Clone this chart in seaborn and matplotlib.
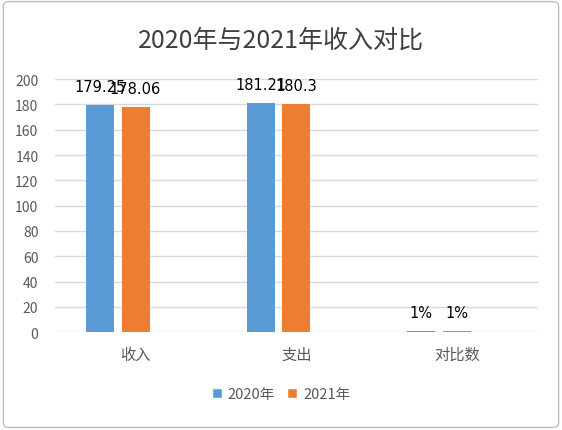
import matplotlib
matplotlib.use("Agg")
import matplotlib.pyplot as plt
from matplotlib.patches import Patch, FancyBboxPatch
import seaborn as sns
import pandas as pd

categories = ["收入", "支出", "对比数"]
series = ["2020年", "2021年"]
v2020 = [179.25, 181.21, 1]
v2021 = [178.06, 180.3, 1]
labels2020 = ["179.25", "181.21", "1%"]
labels2021 = ["178.06", "180.3", "1%"]
colors = ["#5B9BD5", "#ED7D31"]

df = pd.DataFrame({
    "类别": categories * 2,
    "年份": [series[0]] * 3 + [series[1]] * 3,
    "值": v2020 + v2021,
})

sns.set_style("white")
plt.rcParams["font.family"] = ["Noto Sans CJK SC", "DejaVu Sans"]

fig = plt.figure(figsize=(5.62, 4.31), dpi=100)
ax = fig.add_axes([0.098, 0.227, 0.859, 0.587])

# third empty slot keeps the Excel-like offset of the pair inside each group
sns.barplot(data=df, x="类别", y="值", hue="年份",
            hue_order=series + [" "], order=categories,
            palette=colors + ["white"], width=0.67, gap=0.22,
            saturation=1, linewidth=0, edgecolor="none",
            legend=False, ax=ax)

for cont, labs in zip(ax.containers, [labels2020, labels2021]):
    ax.bar_label(cont, labels=labs, padding=8, fontsize=10.5,
                 family=["DejaVu Sans"], color="black")

ax.set_ylim(0, 200)
ax.set_yticks(range(0, 201, 20))
ax.set_xlim(-0.5, 2.5)
ax.yaxis.grid(True, color="#d9d9d9", linewidth=1)
ax.set_axisbelow(True)
for s in ax.spines.values():
    s.set_visible(False)
ax.tick_params(axis="y", length=0, labelsize=10, colors="#595959", pad=12)
ax.tick_params(axis="x", length=0, labelsize=11, colors="#595959", pad=10)
ax.set_xlabel("")
ax.set_ylabel("")

fig.suptitle("2020年与2021年收入对比", y=0.935, fontsize=18, color="#404040")

handles = [Patch(facecolor=c, label=s) for c, s in zip(colors, series)]
fig.legend(handles=handles, loc="center", bbox_to_anchor=(0.5, 0.083),
           ncol=2, frameon=False, fontsize=10.5, handlelength=0.7,
           handleheight=0.7, handletextpad=0.4, columnspacing=0.8,
           labelcolor="#595959")

fig.patches.append(FancyBboxPatch((0.006, 0.006), 0.988, 0.988,
                                  boxstyle="round,pad=0,rounding_size=0.01",
                                  transform=fig.transFigure, fill=False,
                                  edgecolor="#bfbfbf", linewidth=1))

fig.savefig("out.png", dpi=100)
